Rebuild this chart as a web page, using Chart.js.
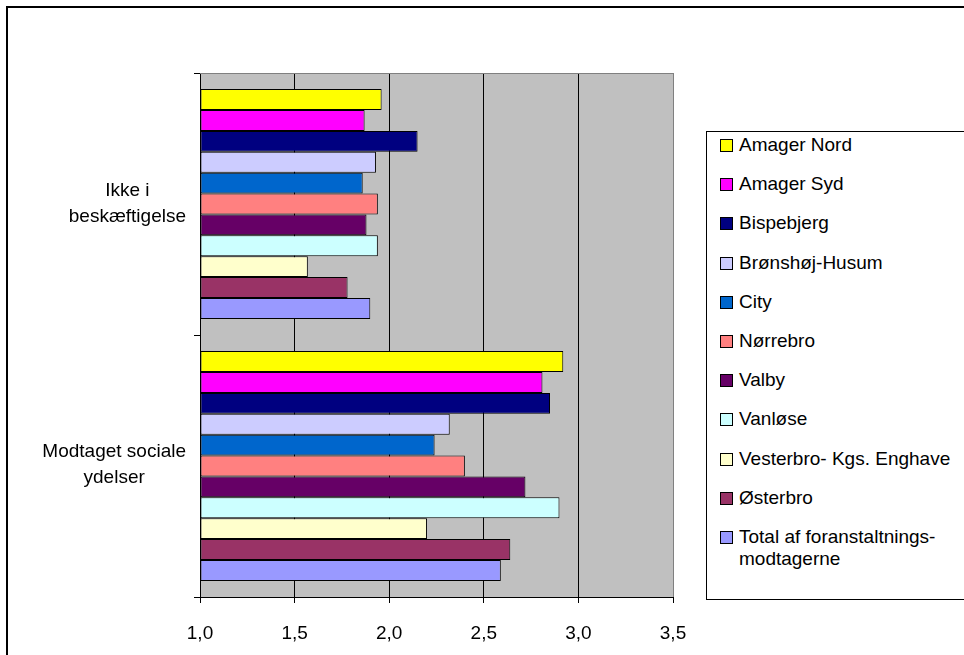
<!DOCTYPE html>
<html>
<head>
<meta charset="utf-8">
<script src="https://cdn.jsdelivr.net/npm/chart.js@4.4.1/dist/chart.umd.min.js"></script>
<style>
  body { margin: 0; background: #fff; font-family: Arial, "Liberation Sans", sans-serif; overflow: hidden; }
  #wrap { position: relative; width: 964px; height: 655px; overflow: hidden; }
  #legend { position: absolute; left: 706px; top: 131px; width: 600px; height: 467px; border: 1px solid #000; background: #fff; }
  .item { position: absolute; left: 13px; display: flex; align-items: flex-start; font-size: 19px; line-height: 22px; color: #000; }
  .box { width: 11px; height: 11px; border: 1px solid #000; margin-top: 5px; margin-right: 6px; flex: none; }
  .txt { width: 222px; }
</style>
</head>
<body>
<div id="wrap">
  <canvas id="chart" width="964" height="655"></canvas>
  <div id="legend"></div>
</div>
<script>
var categories = [["Ikke i", "beskæftigelse"], ["Modtaget sociale", "ydelser"]];
var seriesNames = ["Amager Nord", "Amager Syd", "Bispebjerg", "Brønshøj-Husum", "City", "Nørrebro",
  "Valby", "Vanløse", "Vesterbro- Kgs. Enghave", "Østerbro", "Total af foranstaltnings-modtagerne"];
var seriesColors = ["#FFFF00", "#FF00FF", "#000080", "#CCCCFF", "#0066CC", "#FF8080",
  "#660066", "#CCFFFF", "#FFFFCC", "#993366", "#9999FF"];
// values per series: [Ikke i beskæftigelse, Modtaget sociale ydelser]
var amagerNord = [1.96, 2.92];
var amagerSyd = [1.87, 2.81];
var bispebjerg = [2.15, 2.85];
var bronshoj = [1.93, 2.32];
var city = [1.86, 2.24];
var norrebro = [1.94, 2.40];
var valby = [1.88, 2.72];
var vanlose = [1.94, 2.90];
var vesterbro = [1.57, 2.20];
var osterbro = [1.78, 2.64];
var total = [1.90, 2.59];
var seriesValues = [amagerNord, amagerSyd, bispebjerg, bronshoj, city, norrebro,
  valby, vanlose, vesterbro, osterbro, total];
var xTicks = [1.0, 1.5, 2.0, 2.5, 3.0, 3.5];

var FONT = 'Arial, "Liberation Sans", sans-serif';

var datasets = [];
for (var i = 0; i < seriesNames.length; i++) {
  datasets.push({
    label: seriesNames[i],
    data: seriesValues[i],
    backgroundColor: seriesColors[i],
    borderColor: "#000",
    borderWidth: 1,
    borderSkipped: false,
    base: 1,
    barPercentage: 1.0,
    categoryPercentage: 0.877
  });
}

// frame, plot background and the category labels
var decor = {
  id: "decor",
  beforeDraw: function(chart) {
    var ctx = chart.ctx, a = chart.chartArea;
    ctx.save();
    ctx.fillStyle = "#fff";
    ctx.fillRect(0, 0, chart.width, chart.height);
    ctx.strokeStyle = "#000";
    ctx.lineWidth = 2;
    ctx.strokeRect(7, 7, 2000, 2000);
    ctx.fillStyle = "#C0C0C0";
    ctx.fillRect(a.left, a.top, a.right - a.left, a.bottom - a.top);
    ctx.restore();
  },
  beforeDatasetsDraw: function(chart) {
    var ctx = chart.ctx, a = chart.chartArea;
    ctx.save();
    ctx.strokeStyle = "#808080";
    ctx.lineWidth = 1;
    ctx.beginPath();
    ctx.moveTo(a.left, a.top + 0.5);
    ctx.lineTo(a.right, a.top + 0.5);
    ctx.stroke();
    ctx.restore();
  },
  afterDraw: function(chart) {
    var ctx = chart.ctx, y = chart.scales.y;
    ctx.save();
    ctx.font = "19px " + FONT;
    ctx.fillStyle = "#000";
    ctx.textAlign = "center";
    ctx.textBaseline = "middle";
    for (var i = 0; i < categories.length; i++) {
      var lines = categories[i];
      var w = 0;
      for (var j = 0; j < lines.length; j++) w = Math.max(w, ctx.measureText(lines[j]).width);
      var cx = 186 - w / 2;
      var cy = y.getPixelForValue(i);
      for (j = 0; j < lines.length; j++) {
        ctx.fillText(lines[j], cx, cy + (j - (lines.length - 1) / 2) * 26 - (i === 0 ? 0 : 1));
      }
    }
    ctx.restore();
  }
};

var chart = new Chart(document.getElementById("chart"), {
  type: "bar",
  data: { labels: categories.map(function(c) { return c.join(" "); }), datasets: datasets },
  options: {
    indexAxis: "y",
    responsive: false,
    animation: false,
    layout: { padding: { top: 73, right: 291, left: 0, bottom: 0 } },
    plugins: { legend: { display: false }, tooltip: { enabled: false } },
    scales: {
      x: {
        min: 1,
        max: 3.5,
        afterBuildTicks: function(scale) {
          scale.ticks = xTicks.map(function(v) { return { value: v }; });
        },
        afterFit: function(scale) { scale.height = 58; },
        ticks: {
          color: "#000",
          font: { size: 19, family: FONT },
          padding: 19,
          maxRotation: 0,
          callback: function(v) { return Number(v).toFixed(1).replace(".", ","); }
        },
        grid: {
          color: function(c) { return c.tick && c.tick.value === 3.5 ? "#808080" : "#000"; },
          tickColor: "#000",
          tickLength: 6
        },
        border: { color: "#000", width: 1 }
      },
      y: {
        afterFit: function(scale) { scale.width = 200; },
        ticks: { display: false },
        grid: { display: true, drawOnChartArea: false, offset: true, tickLength: 6, color: "#000" },
        border: { color: "#000", width: 1 }
      }
    }
  },
  plugins: [decor]
});

// legend as html, built from the datasets
var legend = document.getElementById("legend");
for (var k = 0; k < chart.data.datasets.length; k++) {
  var ds = chart.data.datasets[k];
  var item = document.createElement("div");
  item.className = "item";
  item.style.top = (2 + k * 39.2) + "px";
  var box = document.createElement("span");
  box.className = "box";
  box.style.background = ds.backgroundColor;
  var txt = document.createElement("span");
  txt.className = "txt";
  txt.textContent = ds.label;
  item.appendChild(box);
  item.appendChild(txt);
  legend.appendChild(item);
}
</script>
</body>
</html>
